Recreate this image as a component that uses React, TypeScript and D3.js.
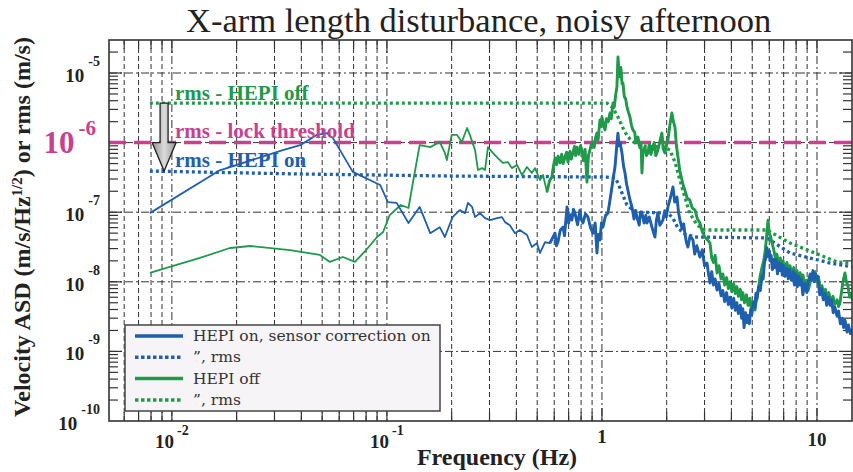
import * as d3 from "d3";

const WIDTH = 853;
const HEIGHT = 472;
const margin = { top: 40, right: 1, bottom: 51, left: 109 };

const SERIF = "'Liberation Serif', 'Times New Roman', serif";
const WIDE = "'DejaVu Serif', serif";

const BLUE = "#1f60ae";
const GREEN = "#1f9a4a";
const MAGENTA = "#c8418f";
const GRID = "#333";

// axes
const freqDomain = [0.0051, 14.55];
const asdDomain = [1e-10, 2.98e-5];
const xTickLabels = [
  { value: 0.01, base: "10", exp: "-2" },
  { value: 0.1, base: "10", exp: "-1" },
  { value: 1, base: "1", exp: "" },
  { value: 10, base: "10", exp: "" },
];
const yTickLabels = [
  { value: 1e-5, exp: "-5" },
  { value: 1e-6, exp: "-6" },
  { value: 1e-7, exp: "-7" },
  { value: 1e-8, exp: "-8" },
  { value: 1e-9, exp: "-9" },
  { value: 1e-10, exp: "-10" },
];

const lockThreshold = 1e-6;
const arrowFreq = 0.0092;

// HEPI on, sensor correction on  [Hz, m/s/rtHz]
const hepiOn = [
  [0.0079, 9.7e-8], [0.0167, 4.0e-7], [0.0328, 7.8e-7], [0.0395, 9.2e-7],
  [0.0472, 1.29e-6], [0.0527, 1.37e-6], [0.0561, 1.16e-6], [0.0694, 3.8e-7],
  [0.093, 2.46e-7], [0.101, 1.4e-7], [0.111, 1.36e-7], [0.126, 7.0e-8],
  [0.142, 1.19e-7], [0.159, 5.0e-8], [0.176, 6.1e-8], [0.186, 4.4e-8],
  [0.202, 8.5e-8], [0.218, 1.07e-7], [0.231, 9.7e-8], [0.238, 1.36e-7],
  [0.249, 1.19e-7], [0.257, 8.5e-8], [0.271, 9.7e-8], [0.286, 8.2e-8],
  [0.302, 7.7e-8], [0.325, 8.2e-8], [0.343, 8.5e-8], [0.354, 7.2e-8],
  [0.373, 6.5e-8], [0.394, 5.0e-8], [0.415, 5.55e-8], [0.448, 4.7e-8],
  [0.472, 3.16e-8], [0.498, 3.6e-8], [0.515, 2.59e-8], [0.543, 3.7e-8],
  [0.573, 3.6e-8], [0.605, 5.0e-8], [0.614, 3.3e-8], [0.624, 3.7e-8],
  [0.64, 5.5e-8], [0.659, 6.1e-8], [0.67, 4.6e-8], [0.688, 1.19e-7],
  [0.7, 7.0e-8], [0.712, 9.2e-8], [0.725, 7.7e-8], [0.737, 1.1e-7],
  [0.749, 9.7e-8], [0.77, 6.6e-8], [0.79, 1.07e-7], [0.8, 8.0e-8],
  [0.816, 7.0e-8], [0.838, 9.5e-8], [0.861, 8.5e-8], [0.885, 6.0e-8],
  [0.908, 5.0e-8], [0.93, 7.0e-8], [0.948, 2.59e-8], [0.96, 4.8e-8],
  [0.979, 3.98e-8], [0.995, 7.0e-8], [1.01, 6.1e-8], [1.04, 9.0e-8],
  [1.066, 9.7e-8], [1.09, 1.5e-7], [1.113, 2.3e-7], [1.13, 3.2e-7],
  [1.15, 4.46e-7], [1.17, 8.5e-7], [1.187, 1.37e-6], [1.2, 9.0e-7],
  [1.215, 1.0e-6], [1.239, 7.1e-7], [1.26, 4.6e-7], [1.28, 3.66e-7],
  [1.3, 2.6e-7], [1.32, 2.08e-7], [1.35, 1.5e-7], [1.379, 1.19e-7],
  [1.41, 8.0e-8], [1.43, 1.05e-7], [1.455, 8.5e-8], [1.49, 6.5e-8],
  [1.51, 1.0e-7], [1.535, 9.7e-8], [1.57, 7.0e-8], [1.6, 9.0e-8],
  [1.62, 7.0e-8], [1.66, 8.5e-8], [1.708, 6.1e-8], [1.74, 5.0e-8],
  [1.764, 4.4e-8], [1.79, 7.5e-8], [1.82, 9.7e-8], [1.86, 6.5e-8],
  [1.92, 7.7e-8], [1.96, 1.05e-7], [1.99, 8.5e-8], [2.027, 1.19e-7],
  [2.08, 1.6e-7], [2.139, 2.3e-7], [2.18, 1.4e-7], [2.233, 1.65e-7],
  [2.27, 1.0e-7], [2.305, 7.7e-8], [2.36, 5.8e-8], [2.4, 6.8e-8],
  [2.43, 5.0e-8], [2.47, 3.7e-8], [2.51, 3.16e-8], [2.57, 4.6e-8],
  [2.65, 3.98e-8], [2.7, 2.5e-8], [2.76, 3.3e-8], [2.855, 2.27e-8],
  [2.93, 2.9e-8], [3.0, 1.7e-8], [3.08, 1.86e-8], [3.13, 1.3e-8],
  [3.18, 9.6e-9], [3.24, 1.4e-8], [3.3, 9.0e-9], [3.36, 1.1e-8],
  [3.43, 7.6e-9], [3.5, 9.5e-9], [3.58, 6.3e-9], [3.65, 7.5e-9],
  [3.72, 5.2e-9], [3.8, 7.0e-9], [3.87, 4.7e-9], [3.94, 6.0e-9],
  [4.02, 4.2e-9], [4.1, 5.8e-9], [4.17, 3.9e-9], [4.24, 5.0e-9],
  [4.31, 3.5e-9], [4.4, 4.6e-9], [4.46, 3.0e-9], [4.52, 4.1e-9],
  [4.58, 2.2e-9], [4.65, 3.6e-9], [4.72, 2.6e-9], [4.77, 3.3e-9],
  [4.85, 2.5e-9], [4.92, 4.0e-9], [4.98, 3.4e-9], [5.06, 5.0e-9],
  [5.14, 4.3e-9], [5.2, 6.8e-9], [5.26, 5.6e-9], [5.35, 8.5e-9],
  [5.45, 7.5e-9], [5.55, 1.2e-8], [5.62, 1.1e-8], [5.7, 1.9e-8],
  [5.78, 2.2e-8], [5.85, 3.1e-8], [5.92, 2.3e-8], [6.0, 2.8e-8],
  [6.05, 2.0e-8], [6.12, 2.4e-8], [6.2, 1.5e-8], [6.3, 2.1e-8],
  [6.38, 1.6e-8], [6.46, 2.1e-8], [6.55, 1.3e-8], [6.63, 1.9e-8],
  [6.73, 1.45e-8], [6.82, 1.8e-8], [6.9, 1.25e-8], [7.0, 1.7e-8],
  [7.1, 1.2e-8], [7.24, 1.55e-8], [7.35, 1.1e-8], [7.45, 1.5e-8],
  [7.6, 1.05e-8], [7.75, 1.4e-8], [7.85, 9.0e-9], [7.95, 1.3e-8],
  [8.1, 8.5e-9], [8.2, 1.2e-8], [8.33, 9.0e-9], [8.45, 1.1e-8],
  [8.6, 6.5e-9], [8.75, 9.5e-9], [8.97, 7.0e-9], [9.1, 1.0e-8],
  [9.3, 1.3e-8], [9.45, 1.05e-8], [9.58, 1.45e-8], [9.7, 1.0e-8],
  [9.85, 1.3e-8], [10.1, 1.1e-8], [10.3, 6.5e-9], [10.5, 8.0e-9],
  [10.7, 5.5e-9], [10.9, 6.8e-9], [11.1, 4.6e-9], [11.3, 6.0e-9],
  [11.5, 4.6e-9], [11.7, 5.5e-9], [11.9, 3.6e-9], [12.1, 4.4e-9],
  [12.4, 3.2e-9], [12.6, 3.8e-9], [12.85, 2.5e-9], [13.1, 3.0e-9],
  [13.3, 2.2e-9], [13.5, 2.8e-9], [13.8, 1.9e-9], [14.0, 2.4e-9],
  [14.3, 1.8e-9], [14.7, 2.1e-9],
];

const hepiOnRms = [
  [0.0079, 3.9e-7], [0.0395, 3.54e-7], [0.196, 3.31e-7], [1.055, 3.2e-7],
  [1.15, 3.1e-7], [1.187, 2.63e-7], [1.239, 1.89e-7], [1.307, 1.27e-7],
  [1.393, 1.07e-7], [1.502, 1.0e-7], [2.027, 9.7e-8], [2.139, 8.2e-8],
  [2.257, 5.9e-8], [2.43, 4.86e-8], [2.71, 4.4e-8], [5.85, 4.26e-8],
  [7.5, 2.59e-8], [11.5, 1.86e-8], [14.7, 1.63e-8],
];

// HEPI off
const hepiOff = [
  [0.0079, 1.34e-8], [0.0135, 2.2e-8], [0.0186, 3.06e-8], [0.0232, 3.27e-8],
  [0.0354, 2.86e-8], [0.0488, 2.43e-8], [0.0543, 1.93e-8], [0.0624, 2.27e-8],
  [0.071, 1.93e-8], [0.08, 2.86e-8], [0.09, 4.4e-8], [0.096, 5.2e-8],
  [0.103, 9.1e-8], [0.116, 1.27e-7], [0.126, 1.15e-7], [0.132, 2.63e-7],
  [0.142, 9.2e-7], [0.159, 8.6e-7], [0.176, 1.02e-6], [0.186, 7.1e-7],
  [0.19, 5.6e-7], [0.2, 1.29e-6], [0.212, 1.29e-6], [0.223, 1.02e-6],
  [0.236, 1.62e-6], [0.243, 1.29e-6], [0.257, 7.8e-7], [0.265, 4.04e-7],
  [0.277, 4.3e-7], [0.286, 4.04e-7], [0.295, 8.6e-7], [0.311, 7.1e-7],
  [0.328, 6.0e-7], [0.346, 5.1e-7], [0.365, 5.26e-7], [0.381, 4.3e-7],
  [0.403, 4.77e-7], [0.425, 3.42e-7], [0.448, 4.46e-7], [0.472, 3.66e-7],
  [0.488, 4.3e-7], [0.515, 2.9e-7], [0.532, 3.42e-7], [0.555, 1.95e-7],
  [0.57, 2.8e-7], [0.585, 3.2e-7], [0.595, 4.6e-7], [0.605, 6.0e-7],
  [0.615, 4.8e-7], [0.625, 6.4e-7], [0.638, 5.1e-7], [0.65, 6.8e-7],
  [0.66, 5.0e-7], [0.673, 6.2e-7], [0.685, 7.3e-7], [0.695, 5.26e-7],
  [0.71, 7.5e-7], [0.72, 5.8e-7], [0.733, 7.1e-7], [0.745, 8.8e-7],
  [0.755, 6.5e-7], [0.765, 8.6e-7], [0.78, 6.8e-7], [0.795, 9.0e-7],
  [0.807, 7.8e-7], [0.82, 5.5e-7], [0.835, 8.0e-7], [0.852, 2.71e-7],
  [0.865, 6.5e-7], [0.879, 7.8e-7], [0.893, 9.5e-7], [0.908, 1.02e-6],
  [0.92, 8.5e-7], [0.935, 1.2e-6], [0.948, 1.37e-6], [0.96, 1.1e-6],
  [0.979, 2.11e-6], [0.99, 1.7e-6], [1.0, 2.33e-6], [1.015, 1.9e-6],
  [1.033, 1.52e-6], [1.05, 2.2e-6], [1.07, 2.0e-6], [1.09, 2.66e-6],
  [1.105, 2.2e-6], [1.125, 3.7e-6], [1.14, 3.2e-6], [1.16, 5.0e-6],
  [1.174, 6.3e-6], [1.187, 1.7e-5], [1.2, 1.05e-5], [1.213, 8.8e-6],
  [1.225, 1.2e-5], [1.24, 7.0e-6], [1.252, 7.2e-6], [1.27, 4.6e-6],
  [1.29, 4.2e-6], [1.307, 3.25e-6], [1.325, 2.8e-6], [1.35, 2.33e-6],
  [1.37, 1.8e-6], [1.393, 1.52e-6], [1.42, 1.4e-6], [1.44, 1.0e-6],
  [1.47, 1.2e-6], [1.5, 8.5e-7], [1.52, 1.0e-6], [1.535, 3.66e-7],
  [1.55, 7.0e-7], [1.585, 8.6e-7], [1.61, 6.5e-7], [1.637, 7.1e-7],
  [1.66, 9.5e-7], [1.69, 6.8e-7], [1.727, 8.6e-7], [1.75, 1.0e-6],
  [1.78, 6.5e-7], [1.82, 7.8e-7], [1.86, 1.05e-6], [1.9, 1.37e-6],
  [1.93, 8.0e-7], [1.963, 7.1e-7], [2.0, 9.5e-7], [2.027, 1.09e-6],
  [2.07, 1.8e-6], [2.115, 2.66e-6], [2.15, 2.0e-6], [2.185, 1.67e-6],
  [2.22, 9.0e-7], [2.257, 6.2e-7], [2.3, 4.0e-7], [2.356, 2.9e-7],
  [2.39, 2.4e-7], [2.43, 2.08e-7], [2.49, 1.6e-7], [2.56, 1.5e-7],
  [2.63, 1.15e-7], [2.71, 1.07e-7], [2.78, 8.0e-8], [2.855, 7.0e-8],
  [2.93, 5.2e-8], [3.01, 4.4e-8], [3.1, 4.0e-8], [3.18, 3.6e-8],
  [3.24, 2.2e-8], [3.3, 1.9e-8], [3.36, 2.4e-8], [3.43, 1.34e-8],
  [3.5, 1.7e-8], [3.58, 1.1e-8], [3.65, 1.3e-8], [3.72, 9.0e-9],
  [3.8, 1.15e-8], [3.87, 8.0e-9], [3.94, 1.0e-8], [4.02, 7.2e-9],
  [4.1, 9.5e-9], [4.17, 6.8e-9], [4.24, 8.5e-9], [4.31, 6.2e-9],
  [4.4, 7.8e-9], [4.46, 5.5e-9], [4.52, 7.0e-9], [4.6, 5.0e-9],
  [4.7, 6.5e-9], [4.78, 4.6e-9], [4.88, 5.8e-9], [4.95, 4.0e-9],
  [5.05, 5.2e-9], [5.15, 3.93e-9], [5.25, 6.0e-9], [5.35, 8.0e-9],
  [5.43, 1.17e-8], [5.55, 1.6e-8], [5.65, 2.0e-8], [5.73, 2.59e-8],
  [5.82, 4.2e-8], [5.92, 7.7e-8], [6.0, 5.0e-8], [6.08, 4.5e-8],
  [6.18, 3.6e-8], [6.28, 3.0e-8], [6.4, 2.2e-8], [6.51, 2.5e-8],
  [6.62, 1.8e-8], [6.75, 2.2e-8], [6.85, 1.6e-8], [6.95, 2.0e-8],
  [7.1, 1.5e-8], [7.25, 1.9e-8], [7.38, 1.4e-8], [7.49, 1.7e-8],
  [7.65, 1.25e-8], [7.8, 1.6e-8], [7.95, 1.2e-8], [8.07, 1.45e-8],
  [8.2, 1.05e-8], [8.35, 1.35e-8], [8.48, 1.0e-8], [8.61, 1.25e-8],
  [8.8, 8.5e-9], [8.95, 1.05e-8], [9.1, 7.5e-9], [9.28, 9.5e-9],
  [9.45, 1.3e-8], [9.6, 1.1e-8], [9.8, 1.4e-8], [9.96, 1.0e-8],
  [10.15, 1.2e-8], [10.35, 7.8e-9], [10.55, 8.8e-9], [10.75, 6.5e-9],
  [10.95, 7.8e-9], [11.13, 6.0e-9], [11.35, 7.0e-9], [11.6, 5.2e-9],
  [11.87, 6.2e-9], [12.1, 4.8e-9], [12.4, 5.5e-9], [12.6, 4.4e-9],
  [12.79, 5.0e-9], [13.0, 7.0e-9], [13.2, 1.0e-8], [13.49, 1.34e-8],
  [13.7, 1.0e-8], [13.9, 9.0e-9], [14.2, 6.0e-9], [14.5, 6.8e-9],
  [14.7, 5.47e-9],
];

const hepiOffRms = [
  [0.0079, 3.7e-6], [1.055, 3.7e-6], [1.125, 3.14e-6], [1.187, 2.33e-6],
  [1.252, 1.62e-6], [1.32, 1.2e-6], [1.424, 9.9e-7], [1.585, 8.9e-7],
  [1.963, 8.6e-7], [2.07, 7.8e-7], [2.185, 5.26e-7], [2.305, 2.9e-7],
  [2.43, 1.65e-7], [2.56, 9.7e-8], [2.77, 6.5e-8], [3.01, 5.55e-8],
  [5.85, 5.55e-8], [7.5, 3.6e-8], [12.4, 1.93e-8], [14.7, 1.86e-8],
];

const legendItems = [
  { label: "HEPI on, sensor correction on", color: BLUE, dotted: false },
  { label: "\u201d, rms", color: BLUE, dotted: true },
  { label: "HEPI off", color: GREEN, dotted: false },
  { label: "\u201d, rms", color: GREEN, dotted: true },
];

export default function App() {
  const x = d3.scaleLog().domain(freqDomain).range([margin.left, WIDTH - margin.right]);
  const y = d3.scaleLog().domain(asdDomain).range([HEIGHT - margin.bottom, margin.top]);
  const line = d3.line<number[]>().x((d) => x(d[0])).y((d) => y(d[1]));

  const x0 = margin.left, x1 = WIDTH - margin.right;
  const y0 = margin.top, y1 = HEIGHT - margin.bottom;

  const xTicks = x.ticks().filter((t) => x(t) > x0 + 1 && x(t) < x1 - 1);
  const yTicks = y.ticks().filter((t) => y(t) > y0 + 1 && y(t) < y1 - 1);
  const isDecade = (t: number) => Math.abs(Math.log10(t) - Math.round(Math.log10(t))) < 1e-6;

  const ax = x(arrowFreq);
  const aTop = y(hepiOffRms[0][1]);
  const aHead = y(lockThreshold);
  const aTip = y(hepiOnRms[0][1]);

  const dotted = { strokeWidth: 3.3, strokeDasharray: "3,3" };

  return (
    <svg width={WIDTH} height={HEIGHT} style={{ position: "absolute", left: 0, top: 0, background: "#fff" }}>
      <defs>
        <clipPath id="plot">
          <rect x={x0} y={y0} width={x1 - x0} height={y1 - y0} />
        </clipPath>
        <linearGradient id="arrowFill" x1="0" x2="1" y1="0" y2="0">
          <stop offset="0" stopColor="#8f8f8f" />
          <stop offset="0.5" stopColor="#dcdcdc" />
          <stop offset="1" stopColor="#9a9a9a" />
        </linearGradient>
      </defs>

      <text x={186} y={32} fontFamily={SERIF} fontSize={34.5} fill="#222">
        X-arm length disturbance, noisy afternoon
      </text>

      {/* grid */}
      <g fill="none" stroke={GRID} strokeWidth={1}>
        {xTicks.map((t) => (
          <line key={"gx" + t} x1={x(t)} x2={x(t)} y1={y0} y2={y1}
            strokeDasharray={isDecade(t) ? "8,3,2,3" : "5,3"} />
        ))}
        {yTicks.filter(isDecade).map((t) => (
          <line key={"gy" + t} x1={x0} x2={x1} y1={y(t)} y2={y(t)} strokeDasharray="8,3,2,3" />
        ))}
      </g>

      {/* ticks */}
      <g stroke="#333" strokeWidth={1.2}>
        {xTicks.map((t) => {
          const len = isDecade(t) ? 13 : 9;
          return (
            <g key={"tx" + t}>
              <line x1={x(t)} x2={x(t)} y1={y0} y2={y0 + len} />
              <line x1={x(t)} x2={x(t)} y1={y1} y2={y1 - len} />
            </g>
          );
        })}
        {yTicks.map((t) => {
          const len = isDecade(t) ? 13 : 9;
          return (
            <g key={"ty" + t}>
              <line x1={x0} x2={x0 + len} y1={y(t)} y2={y(t)} />
              <line x1={x1} x2={x1 - len} y1={y(t)} y2={y(t)} />
            </g>
          );
        })}
      </g>

      {/* data */}
      <g clipPath="url(#plot)" fill="none" strokeLinejoin="round">
        <line x1={x0} x2={x1} y1={y(lockThreshold)} y2={y(lockThreshold)}
          stroke={MAGENTA} strokeWidth={3.5} strokeDasharray="17,8" />
        <path d={line(hepiOffRms) ?? ""} stroke={GREEN} {...dotted} />
        <path d={line(hepiOnRms) ?? ""} stroke={BLUE} {...dotted} />
        <path d={line(hepiOff) ?? ""} stroke={GREEN} strokeWidth={1.8} />
        <path d={line(hepiOff.filter((d) => d[0] > 0.55)) ?? ""} stroke={GREEN} strokeWidth={2.9} />
        <path d={line(hepiOn) ?? ""} stroke={BLUE} strokeWidth={1.8} />
        <path d={line(hepiOn.filter((d) => d[0] > 0.55)) ?? ""} stroke={BLUE} strokeWidth={2.9} />
      </g>

      {/* rms annotations */}
      <g fontFamily={SERIF} fontWeight="bold" fontSize={21}>
        <text x={175} y={y(hepiOffRms[0][1]) - 3} fill={GREEN}>rms - HEPI off</text>
        <text x={175} y={y(lockThreshold) - 5} fill={MAGENTA}>rms - lock threshold</text>
        <text x={175} y={y(hepiOnRms[0][1]) - 4} fill={BLUE}>rms - HEPI on</text>
      </g>
      <polygon
        points={[
          [ax - 4, aTop], [ax + 4, aTop], [ax + 4, aHead], [ax + 12, aHead],
          [ax, aTip], [ax - 12, aHead], [ax - 4, aHead],
        ].map((p) => p.join(",")).join(" ")}
        fill="url(#arrowFill)" stroke="#222" strokeWidth={1.3} strokeLinejoin="miter"
      />

      {/* legend */}
      <g>
        <rect x={125} y={325} width={315} height={86} fill="#f7f4f7" stroke="#444" strokeWidth={1.5} />
        {legendItems.map((it, i) => {
          const ly = 336 + i * 21.3;
          return (
            <g key={i}>
              <line x1={135} x2={183} y1={ly} y2={ly} stroke={it.color}
                strokeWidth={3.5} strokeDasharray={it.dotted ? "3.5,2.5" : undefined} />
              <text x={193} y={ly + 5} fontFamily={WIDE} fontSize={15.5} fill="#333">{it.label}</text>
            </g>
          );
        })}
      </g>

      {/* frame */}
      <rect x={x0} y={y0} width={x1 - x0} height={y1 - y0} fill="none" stroke="#333" strokeWidth={1.6} />

      {/* x tick labels */}
      <g fontFamily={SERIF} fontWeight="bold" fill="#222">
        {xTickLabels.map((t) => (
          <text key={"lx" + t.value} x={x(t.value)} y={t.exp ? 448 : t.value === 1 ? 443 : 446}
            textAnchor="middle" fontSize={19}>
            <tspan>{t.base}</tspan>
            {t.exp && <tspan dx={3} dy={-13} fontSize={14}>{t.exp}</tspan>}
          </text>
        ))}
      </g>

      {/* y tick labels */}
      <g fontFamily={SERIF} fontWeight="bold" fill="#222">
        {yTickLabels.map((t) =>
          t.value === lockThreshold ? (
            <text key={"ly" + t.value} x={96} y={y(t.value) + 10} textAnchor="end" fill={MAGENTA} fontSize={31}>
              <tspan>10</tspan>
              <tspan dx={4} dy={-18} fontSize={21}>{t.exp}</tspan>
            </text>
          ) : (
            <text key={"ly" + t.value} x={100} y={y(t.value) + 9} textAnchor="end" fontSize={19}>
              <tspan>10</tspan>
              <tspan dx={4} dy={-16} fontSize={14}>{t.exp}</tspan>
            </text>
          )
        )}
      </g>

      {/* axis titles */}
      <text transform="translate(30,227) rotate(-90)" textAnchor="middle"
        fontFamily={SERIF} fontWeight="bold" fontSize={24} fill="#222">
        Velocity ASD (m/s/Hz<tspan dy={-8} fontSize={15}>1/2</tspan><tspan dy={8}>) or rms (m/s)</tspan>
      </text>
      <text x={497} y={465} textAnchor="middle" fontFamily={SERIF} fontWeight="bold" fontSize={24} fill="#222">
        Frequency (Hz)
      </text>
    </svg>
  );
}
